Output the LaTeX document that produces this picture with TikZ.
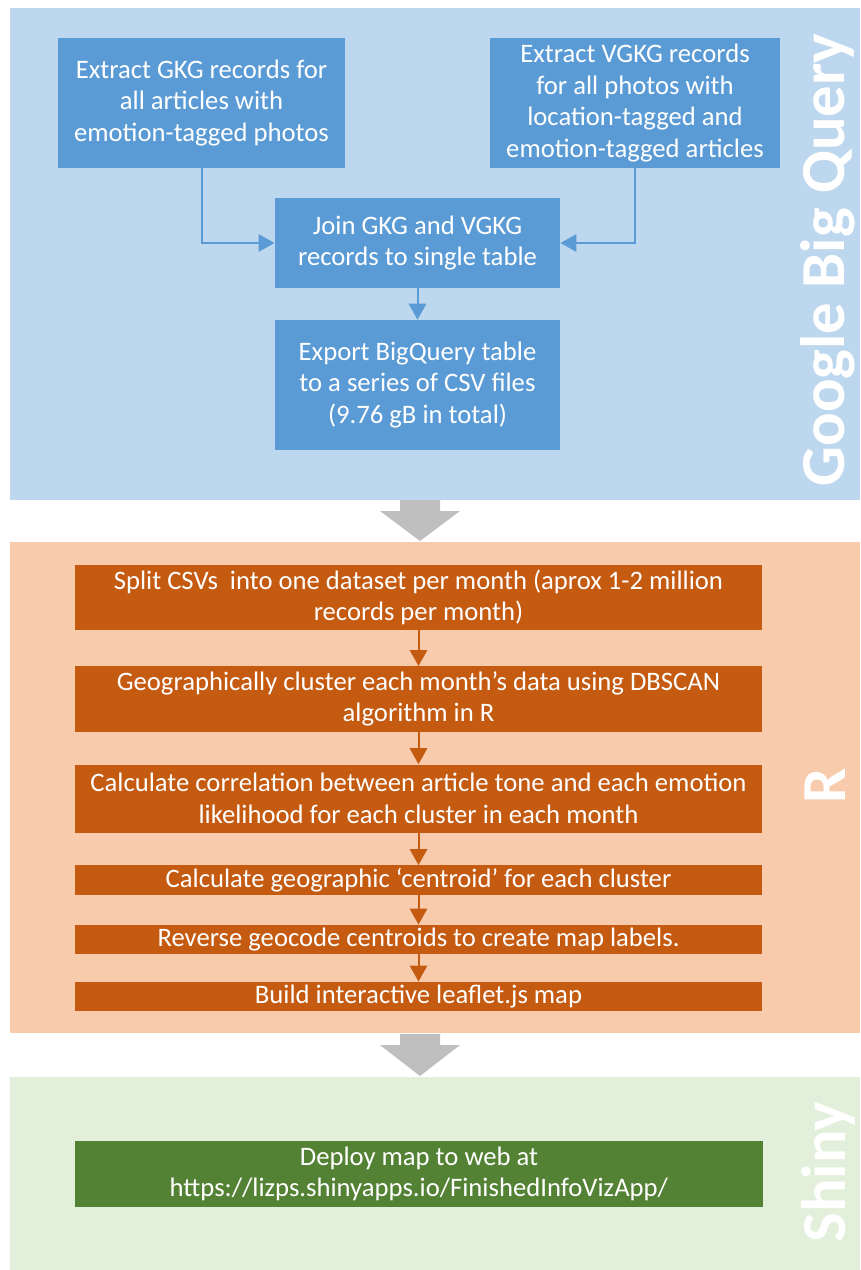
\documentclass[tikz,border=0pt]{standalone}
\usepackage{fontspec}
\setmainfont{Carlito}
\usetikzlibrary{arrows.meta}

\definecolor{bqpanel}{RGB}{189,215,238}
\definecolor{bqfill}{RGB}{91,155,213}
\definecolor{rpanel}{RGB}{248,203,173}
\definecolor{rfill}{RGB}{197,90,17}
\definecolor{shpanel}{RGB}{226,239,218}
\definecolor{shfill}{RGB}{84,130,53}
\definecolor{bigarrow}{RGB}{191,191,191}

\tikzset{
	stepbox/.style={text=white, align=center, inner sep=0pt, font=\fontsize{20}{23.6}\selectfont},
	bqstep/.style={stepbox, fill=bqfill},
	rstep/.style={stepbox, fill=rfill, minimum width=515pt},
	shstep/.style={stepbox, fill=shfill, minimum width=516pt},
	sidelabel/.style={rotate=90, text=white, font=\fontsize{47}{47}\selectfont\bfseries},
	bqflow/.style={draw=bqfill, line width=1.5pt, -{Triangle[length=12pt,width=13pt]}},
	rflow/.style={draw=rfill, line width=1.5pt, -{Triangle[length=12pt,width=13pt]}},
}

\begin{document}
\begin{tikzpicture}[x=0.75pt, y=-0.75pt]
			%%%%% START %%%%%
			\useasboundingbox (0, 0) rectangle (860, 1270);
			
			\fill[bqpanel] (10, 8) rectangle (860, 500);
			\fill[rpanel] (10, 542) rectangle (860, 1033);
			\fill[shpanel] (10, 1077) rectangle (860, 1270);
			
			\fill[bigarrow] (400, 500) -- (440, 500) -- (440, 511) -- (460, 511) -- (420, 541) -- (380, 511) -- (400, 511) -- cycle;
			\fill[bigarrow] (400, 1034) -- (440, 1034) -- (440, 1045) -- (460, 1045) -- (420, 1076) -- (380, 1045) -- (400, 1045) -- cycle;
			
			\node[sidelabel] (lblbq) at (828, 260) {Google Big Query};
			\node[sidelabel] (lblr) at (825, 786) {R};
			\node[sidelabel] (lblsh) at (828, 1172) {Shiny};
			
			% Google Big Query
			\node[bqstep, minimum width=215pt, minimum height=97.5pt] (gkg) at (201.5, 103) {Extract GKG records for\\all articles with\\emotion-tagged photos};
			\node[bqstep, minimum width=217.5pt, minimum height=97.5pt] (vgkg) at (635, 103) {Extract VGKG records\\for all photos with\\location-tagged and\\emotion-tagged articles};
			\node[bqstep, minimum width=214pt, minimum height=67.5pt] (join) at (417.5, 243) {Join GKG and VGKG\\records to single table};
			\node[bqstep, minimum width=214pt, minimum height=97.5pt] (export) at (417.5, 385) {Export BigQuery table\\to a series of CSV files\\(9.76 gB in total)};
			
			\draw[bqflow] (gkg.south) |- (join.west);
			\draw[bqflow] (vgkg.south) |- (join.east);
			\draw[bqflow] (join) -- (export);
			
			% R
			\node[rstep, minimum height=49pt] (split) at (418.5, 597.5) {Split CSVs\ \ into one dataset per month (aprox 1-2 million\\records per month)};
			\node[rstep, minimum height=49pt] (cluster) at (418.5, 699) {Geographically cluster each month’s data using DBSCAN\\algorithm in R};
			\node[rstep, minimum height=51pt] (corr) at (418.5, 798.5) {Calculate correlation between article tone and each emotion\\likelihood for each cluster in each month};
			\node[rstep, minimum height=22pt] (centroid) at (418.5, 880) {Calculate geographic ‘centroid’ for each cluster};
			\node[rstep, minimum height=22pt] (geocode) at (418.5, 939.5) {Reverse geocode centroids to create map labels.};
			\node[rstep, minimum height=22pt] (leaflet) at (418.5, 996.5) {Build interactive leaflet.js map};
			
			\draw[rflow] (split) -- (cluster);
			\draw[rflow] (cluster) -- (corr);
			\draw[rflow] (corr) -- (centroid);
			\draw[rflow] (centroid) -- (geocode);
			\draw[rflow] (geocode) -- (leaflet);
			
			% Shiny
			\node[shstep, minimum height=49.5pt] (deploy) at (419, 1174) {Deploy map to web at\\https://lizps.shinyapps.io/FinishedInfoVizApp/};
			%%%%% END %%%%%
\end{tikzpicture}
\end{document}
